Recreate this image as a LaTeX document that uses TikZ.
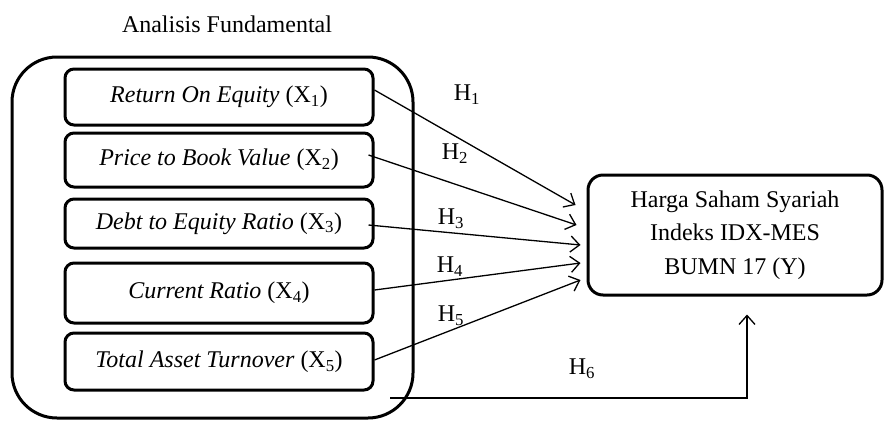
\documentclass[tikz,border=0pt]{standalone}
\usepackage{fontspec}
\setmainfont{Liberation Serif}
\usetikzlibrary{arrows.meta,calc}
\begin{document}
\begin{tikzpicture}[x=1pt,y=-1pt,
  txt/.style={font=\fontsize{24}{33.5}\selectfont, inner sep=0pt},
  xbox/.style={draw, line width=3pt, rounded corners=9pt, minimum width=308pt, font=\fontsize{24}{30}\selectfont, inner sep=0pt},
  arr/.style={line width=1.3pt, -{Straight Barb[length=9pt,width=16pt,line width=1.3pt]}},
  hl/.style={font=\fontsize{24}{30}\selectfont, inner sep=0pt}]
\useasboundingbox (0,0) rectangle (885,421);
\node[txt] (title) at (227,24) {Analisis Fundamental};
\draw[line width=3pt, rounded corners=45pt] (12,57) rectangle (413,418);
\node[xbox, minimum height=56pt] (x1) at (219,97) {\textit{Return On Equity} (X\textsubscript{1})};
\node[xbox, minimum height=54pt] (x2) at (219,160) {\textit{Price to Book Value} (X\textsubscript{2})};
\node[xbox, minimum height=49pt] (x3) at (219,223.5) {\textit{Debt to Equity Ratio} (X\textsubscript{3})};
\node[xbox, minimum height=60pt] (x4) at (219,293) {\textit{Current Ratio} (X\textsubscript{4})};
\node[xbox, minimum height=57pt] (x5) at (219,361.5) {\textit{Total Asset Turnover} (X\textsubscript{5})};
\node[draw, line width=3pt, rounded corners=15pt, minimum width=294pt, minimum height=120pt, txt, align=center] (y) at (735,235)
  {Harga Saham Syariah\\Indeks IDX-MES\\BUMN 17 (Y)};
\coordinate (h6s) at (390,398);
\draw[arr] ([yshift=7pt]x1.east) -- ([shift={(-11pt,30pt)}]y.west);
\draw[arr] ([xshift=-6pt,yshift=5pt]x2.east) -- ([shift={(-10pt,10pt)}]y.west);
\draw[arr] ([xshift=-6pt,yshift=-1.5pt]x3.east) -- ([shift={(-6pt,-10pt)}]y.west);
\draw[arr] ([yshift=3pt]x4.east) -- ([shift={(-6pt,-28pt)}]y.west);
\draw[arr] ([yshift=1.5pt]x5.east) -- ([shift={(-6pt,-45pt)}]y.west);
\draw[arr] (h6s) -| ([shift={(12pt,-18pt)}]y.south);
\node[hl] (h1) at (467,95) {H\textsubscript{1}};
\node[hl] (h2) at (455,154) {H\textsubscript{2}};
\node[hl] (h3) at (451,219) {H\textsubscript{3}};
\node[hl] (h4) at (450,267) {H\textsubscript{4}};
\node[hl] (h5) at (451,316) {H\textsubscript{5}};
\node[hl] (h6) at (582,369) {H\textsubscript{6}};
\end{tikzpicture}
\end{document}
